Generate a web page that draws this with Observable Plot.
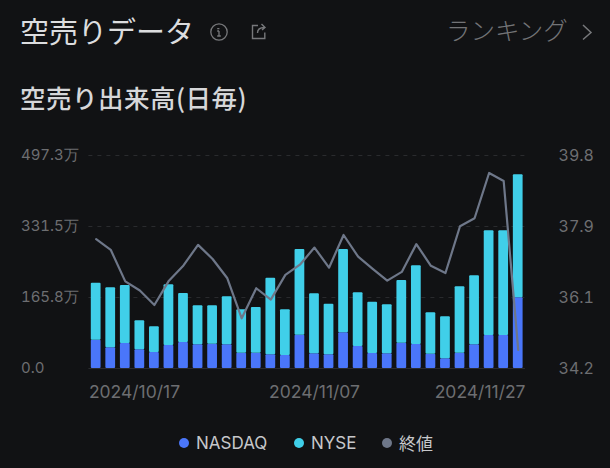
<!DOCTYPE html>
<html><head><meta charset="utf-8">
<script src="https://cdn.jsdelivr.net/npm/d3@7"></script>
<script src="https://cdn.jsdelivr.net/npm/@observablehq/plot@0.6"></script>
<style>
html,body{margin:0;padding:0;background:#111214;width:610px;height:468px;overflow:hidden}
body{font-family:Inter,"Noto Sans CJK JP",sans-serif;position:relative}
#head{height:120px;position:relative}
.t{position:absolute;white-space:nowrap;font-family:"Noto Sans CJK JP",sans-serif}
#legend{position:absolute;left:0;right:0;top:432px;height:22px;font-size:17px;color:#c6c7ca}
#legend span{position:absolute;top:0;line-height:22px;white-space:nowrap}
#legend i{position:absolute;width:10px;height:10px;border-radius:50%;top:6px}
svg.ic{position:absolute}
#chart svg{display:block}
</style></head><body>
<div id="head">
<div class="t" style="left:20px;top:9px;font-size:29px;line-height:42px;color:#dcdddf;letter-spacing:0">空売りデータ</div>
<svg class="ic" style="left:208px;top:21px" width="22" height="22" viewBox="0 0 22 22" fill="none" stroke="#77787b" stroke-width="1.3"><circle cx="11" cy="11" r="8.2"/><path d="M9.2 7.6h2.2M11 10v5M9.2 15h3.6M9.2 10H11"/></svg>
<svg class="ic" style="left:248px;top:21px" width="22" height="22" viewBox="0 0 22 22" fill="none" stroke="#77787b" stroke-width="1.4"><path d="M10 4.5H4.5v13h12.3v-6M9.5 12c0-4 3-5.500 7-5.500M13.500 3l3.500 3.500-3 2.500"/></svg>
<div class="t" style="left:446px;top:9px;font-size:24.500px;line-height:42px;color:#737477;font-weight:300">ランキング</div>
<svg class="ic" style="left:578px;top:22px" width="18" height="20" viewBox="0 0 18 20" fill="none" stroke="#77787b" stroke-width="1.5"><path d="M5 3l8 7.500-8 7"/></svg>
<div class="t" style="left:20px;top:79px;font-size:25.500px;line-height:36px;color:#d6d7d9;font-weight:500;letter-spacing:.5px">空売り出来高(日毎)</div>
</div>
<div id="chart"></div>
<div id="legend">
<i style="left:179px;background:#4a76fa"></i><span style="left:196px">NASDAQ</span>
<i style="left:294px;background:#40cfe9"></i><span style="left:311px">NYSE</span>
<i style="left:382px;background:#6e7789"></i><span class="t" style="left:399px;font-size:17px">終値</span>
</div>
<script>
const dates = ["2024/10/17","2024/10/18","2024/10/21","2024/10/22","2024/10/23","2024/10/24","2024/10/25","2024/10/28","2024/10/29","2024/10/30","2024/10/31","2024/11/01","2024/11/04","2024/11/05","2024/11/06","2024/11/07","2024/11/08","2024/11/11","2024/11/12","2024/11/13","2024/11/14","2024/11/15","2024/11/18","2024/11/19","2024/11/20","2024/11/21","2024/11/22","2024/11/25","2024/11/26","2024/11/27"];
const nasdaq = [66.2,48.3,58.4,43.6,37.4,53.7,60.7,55.3,56.8,55.3,35.8,35.8,31.9,30.4,77.8,34.2,31.9,83.3,51.4,35,34.2,59.2,56,33.5,22.6,35.8,55.3,77,77,165];
const total = [199.2,188.4,193.8,111.3,97.3,195.4,175.1,146.3,146.3,167.3,137,142.4,210.9,137,277.9,174.3,150.2,277.9,176.7,154.9,148.7,205.5,239.7,130,120.6,190.7,216.4,321.4,321.4,452.2];
const nyse = total.map((t,i)=>+(t-nasdaq[i]).toFixed(1));
const close = [37.6,37.32,36.49,36.25,35.87,36.51,36.91,37.45,37.08,36.58,35.52,36.31,36.01,36.66,36.93,37.38,36.85,37.71,37.14,36.82,36.51,36.74,37.47,36.9,36.71,37.94,38.15,39.34,39.13,34.69];
const volTicks = [0,165.8,331.5,497.3];
const volLabels = ["0.0","165.8万","331.5万","497.3万"];
const closeLabels = ["34.2","36.1","37.9","39.8"];
const colors = {NASDAQ:"#4a76fa",NYSE:"#40cfe9",close:"#6e7789"};
const cMin=34.2,cMax=39.8,vMax=497.3;
const toVol = c => (c-cMin)/(cMax-cMin)*vMax;
const bars = dates.flatMap((d,i)=>[{d,s:"NASDAQ",v:nasdaq[i]},{d,s:"NYSE",v:nyse[i]}]);
const lineData = dates.map((d,i)=>({d,v:toVol(close[i])}));
const axisStyle = {tickSize:0,fill:"#6d6e71",label:null};
const plot = Plot.plot({
  width:610,height:290,marginTop:35,marginBottom:42,marginLeft:88.4,marginRight:85,
  style:{background:"transparent",fontFamily:"Inter,sans-serif",overflow:"visible"},
  x:{type:"band",domain:dates,paddingInner:0.33,paddingOuter:0.165,round:false,axis:null},
  y:{domain:[0,vMax],axis:null},
  color:{domain:["NASDAQ","NYSE"],range:[colors.NASDAQ,colors.NYSE]},
  marks:[
    Plot.gridY(volTicks.slice(1),{stroke:"#2a2b2e",strokeOpacity:1,strokeDasharray:"4 5"}),
    Plot.ruleY([0],{stroke:"#2a2b2e"}),
    Plot.barY(bars,{x:"d",y:"v",fill:"s",order:["NASDAQ","NYSE"],rx:1}),
    Plot.line(lineData,{x:"d",y:"v",stroke:colors.close,strokeWidth:2.2}),
    Plot.axisY(volTicks,{anchor:"left",...axisStyle,fontSize:15,tickPadding:68,textAnchor:"start",tickFormat:(d,i)=>volLabels[i]}),
    Plot.axisY(volTicks,{anchor:"right",...axisStyle,fontSize:16,tickPadding:33,textAnchor:"start",tickFormat:(d,i)=>closeLabels[i]}),
    Plot.axisX([dates[0]],{...axisStyle,fontSize:17.500,textAnchor:"start",dx:-7.3,tickPadding:17}),
    Plot.axisX([dates[15]],{...axisStyle,fontSize:17.500,tickPadding:17}),
    Plot.axisX([dates[29]],{...axisStyle,fontSize:17.500,textAnchor:"end",dx:7.3,tickPadding:17})
  ]
});
document.getElementById("chart").append(plot);
</script>
</body></html>
